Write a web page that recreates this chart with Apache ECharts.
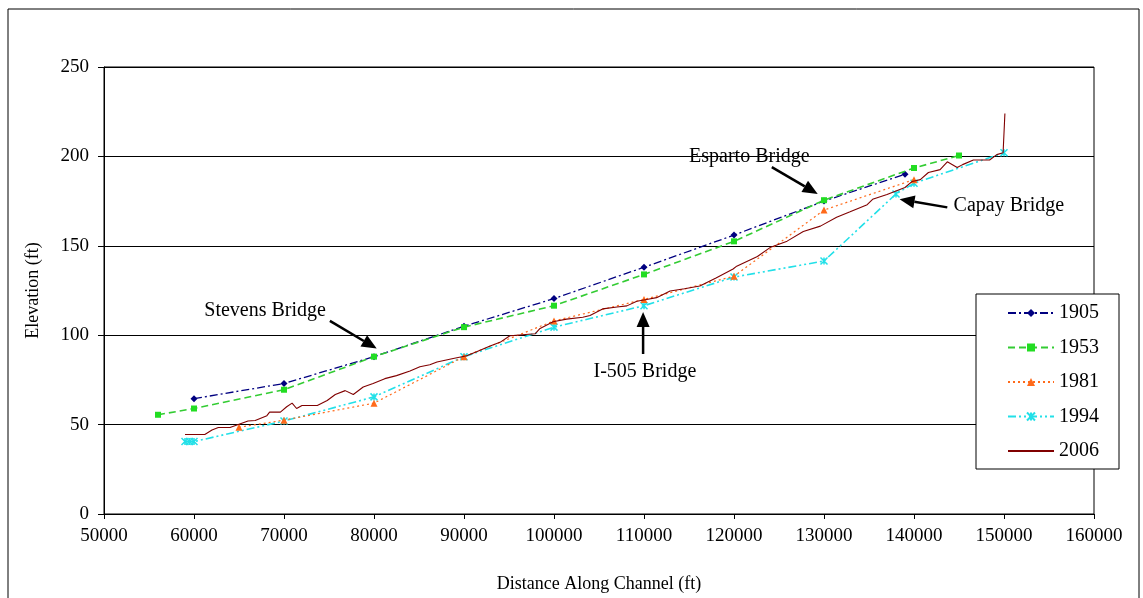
<!DOCTYPE html>
<html>
<head>
<meta charset="utf-8">
<script src="https://cdn.jsdelivr.net/npm/echarts@6/dist/echarts.min.js"></script>
<style>
  html, body { margin: 0; padding: 0; background: #fff; }
  #chart { width: 1143px; height: 598px; }
</style>
</head>
<body>
<div id="chart"></div>
<script>
// survey years
const years = ['1905', '1953', '1981', '1994', '2006'];

// distance along channel (ft) and elevation (ft)
const dist1905 = [60000, 70000, 80000, 90000, 100000, 110000, 120000, 130000, 139000];
const elev1905 = [64.5, 73, 88, 105, 120.5, 138, 156, 175, 190];

const dist1953 = [56000, 60000, 70000, 80000, 90000, 100000, 110000, 120000, 130000, 140000, 145000];
const elev1953 = [55.5, 59, 69.5, 88, 104.5, 116.5, 134, 152.5, 175.5, 193.5, 200.5];

const dist1981 = [65000, 70000, 80000, 90000, 100000, 110000, 120000, 130000, 140000];
const elev1981 = [48.5, 52.5, 62, 88, 108, 120, 133, 170, 187];

const dist1994 = [59000, 59500, 60000, 70000, 80000, 90000, 100000, 110000, 120000, 130000, 138000, 140000, 150000];
const elev1994 = [40.5, 40.5, 40.5, 52, 65.5, 88, 104.5, 116.5, 132.5, 141.5, 179, 185, 202];

const dist2006 = [59000, 61200, 62000, 62700, 64000, 66000, 66800, 68100, 68400, 69600,
  70300, 70900, 71400, 72000, 73700, 74800, 75700, 76800, 77700, 78800,
  79900, 81200, 82500, 84000, 85100, 86200, 87000, 87900, 88800, 90300,
  91400, 92900, 94000, 95100, 97900, 98400, 99900, 101400, 103200, 104000,
  105400, 107000, 108100, 109200, 110300, 111400, 112900, 114500, 116200, 118000,
  119900, 120300, 122600, 124000, 125900, 127700, 129600, 131400, 132900, 134800,
  135400, 137000, 139000, 139800, 140700, 141600, 142900, 143700, 144800, 145400,
  146600, 148400, 149200, 149900, 150100];
const elev2006 = [44.5, 44.5, 47, 48.4, 48.4, 52, 52.3, 55, 57, 57,
  60, 62, 59, 60.7, 60.7, 63.5, 66.8, 69, 66.8, 71,
  73, 75.7, 77.4, 80, 82.4, 83.5, 85, 86, 87, 88.5,
  90.8, 94, 96, 99.7, 100.8, 103.6, 107.5, 109, 110, 111,
  114.7, 115.8, 116.4, 119, 120, 121, 124.7, 126, 127.5, 132,
  137, 138.6, 144, 149, 152.6, 158, 161, 166, 169, 173,
  176, 178.7, 182.6, 186, 187, 191, 192.6, 197, 193.8, 195.4,
  198, 198, 201, 202, 224];

// axis ticks
const xTicks = [50000, 160000, 10000];
const yTicks = [0, 250, 50];

// bridge callouts: label, text anchor, arrow tail, arrow tip (data coords)
const bridgeNames = ['Stevens Bridge', 'Esparto Bridge', 'Capay Bridge', 'I-505 Bridge'];
const bridgeText = [[67900, 113.5], [121700, 200], [144400, 172.5], [110100, 79.5]];
const bridgeTail = [[75100, 108], [124200, 194], [143700, 171.5], [109900, 89.5]];
const bridgeTip = [[80300, 92.5], [129300, 179], [138400, 176], [109900, 113]];

const FONT = 'Liberation Serif';

function pairs(xs, ys) {
  return xs.map((x, i) => [x, ys[i]]);
}

const crossPath = 'path://M0,0L10,10M10,0L0,10M5,0L5,10';

const chart = echarts.init(document.getElementById('chart'), null, { renderer: 'canvas' });

const option = {
  backgroundColor: '#fff',
  animation: false,
  textStyle: { fontFamily: FONT, color: '#000' },
  grid: { left: 104, right: 49, top: 67, bottom: 82, show: true, borderColor: '#000', borderWidth: 1 },
  legend: {
    data: ['1905', '1953', '1981', '1994', { name: '2006', itemStyle: { opacity: 0 } }],
    orient: 'vertical',
    left: 976,
    top: 294,
    padding: [9, 20, 8, 31],
    itemGap: 14.5,
    itemWidth: 46,
    itemHeight: 10,
    borderColor: '#000',
    borderWidth: 1,
    backgroundColor: '#fff',
    textStyle: { fontFamily: FONT, fontSize: 20, color: '#000', lineHeight: 20 }
  },
  xAxis: {
    type: 'value',
    min: xTicks[0], max: xTicks[1], interval: xTicks[2],
    name: 'Distance Along Channel (ft)',
    nameLocation: 'middle',
    nameGap: 61,
    nameTextStyle: { fontFamily: FONT, fontSize: 18, color: '#000' },
    axisLine: { show: true, onZero: false, lineStyle: { color: '#000', width: 1 } },
    axisTick: { show: true, inside: false, length: 5, lineStyle: { color: '#000' } },
    axisLabel: { fontFamily: FONT, fontSize: 19, color: '#000', margin: 13, formatter: v => String(v) },
    splitLine: { show: false }
  },
  yAxis: {
    type: 'value',
    min: yTicks[0], max: yTicks[1], interval: yTicks[2],
    name: 'Elevation (ft)',
    nameLocation: 'middle',
    nameGap: 62,
    nameTextStyle: { fontFamily: FONT, fontSize: 18, color: '#000' },
    axisLine: { show: true, lineStyle: { color: '#000', width: 1 } },
    axisTick: { show: true, inside: false, length: 6, lineStyle: { color: '#000' } },
    axisLabel: { fontFamily: FONT, fontSize: 19, color: '#000', margin: 15 },
    splitLine: { show: true, lineStyle: { color: '#000', width: 1 } }
  },
  series: [
    {
      name: '1905', type: 'line', data: pairs(dist1905, elev1905),
      symbol: 'diamond', symbolSize: 7, showAllSymbol: true,
      lineStyle: { color: '#000080', width: 1.3, type: [8, 3, 2, 3] },
      itemStyle: { color: '#000080' }, z: 3
    },
    {
      name: '1953', type: 'line', data: pairs(dist1953, elev1953),
      symbol: 'rect', symbolSize: 6, showAllSymbol: true,
      lineStyle: { color: '#33cc33', width: 1.6, type: [7, 4] },
      itemStyle: { color: '#22dd22' }, z: 4
    },
    {
      name: '1981', type: 'line', data: pairs(dist1981, elev1981),
      symbol: 'triangle', symbolSize: 7, showAllSymbol: true,
      lineStyle: { color: '#ff6a1a', width: 1.2, type: [2, 3] },
      itemStyle: { color: '#ff6a1a' }, z: 3
    },
    {
      name: '1994', type: 'line', data: pairs(dist1994, elev1994),
      symbol: crossPath, symbolSize: 7, showAllSymbol: true,
      lineStyle: { color: '#22e0e8', width: 1.6, type: [8, 3, 2, 3, 2, 3] },
      itemStyle: { color: '#22e0e8', borderColor: '#22e0e8', borderWidth: 1.5 }, z: 2
    },
    {
      name: '2006', type: 'line', data: pairs(dist2006, elev2006),
      symbol: 'none',
      lineStyle: { color: '#800000', width: 1.1, type: 'solid' },
      itemStyle: { color: '#800000' }, z: 5
    }
  ]
};

chart.setOption(option);

// callout arrows and labels, placed through the chart's own scales
function arrow(tail, tip) {
  const a = chart.convertToPixel({ gridIndex: 0 }, tail);
  const b = chart.convertToPixel({ gridIndex: 0 }, tip);
  const ang = Math.atan2(b[1] - a[1], b[0] - a[0]);
  const L = 15, W = 6.5;
  const bx = b[0] - L * Math.cos(ang), by = b[1] - L * Math.sin(ang);
  const nx = -Math.sin(ang), ny = Math.cos(ang);
  return [
    { type: 'line', shape: { x1: a[0], y1: a[1], x2: bx, y2: by }, style: { stroke: '#000', lineWidth: 2.5 }, z: 100 },
    { type: 'polygon', shape: { points: [[b[0], b[1]], [bx + nx * W, by + ny * W], [bx - nx * W, by - ny * W]] }, style: { fill: '#000' }, z: 100 }
  ];
}

const graphics = [
  { type: 'rect', shape: { x: 8, y: 9, width: 1131, height: 600 }, style: { fill: null, stroke: '#000', lineWidth: 1 }, silent: true, z: 0 }
];
bridgeNames.forEach((name, i) => {
  const p = chart.convertToPixel({ gridIndex: 0 }, bridgeText[i]);
  const align = i === 2 ? 'left' : 'center';
  graphics.push({
    type: 'text', x: p[0], y: p[1], z: 100,
    style: { text: name, font: '20px "Liberation Serif"', fill: '#000', align: align, verticalAlign: 'middle' }
  });
  arrow(bridgeTail[i], bridgeTip[i]).forEach(g => graphics.push(g));
});
chart.setOption({ graphic: graphics });
</script>
</body>
</html>
